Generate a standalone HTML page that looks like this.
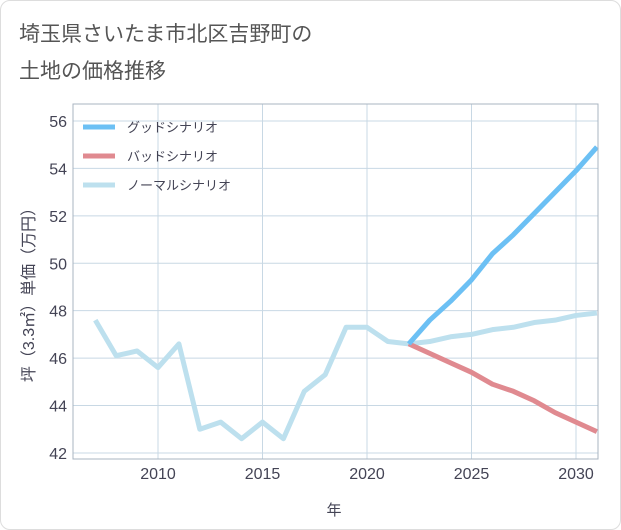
<!DOCTYPE html>
<html><head><meta charset="utf-8"><style>
body{margin:0;background:#fff;font-family:"Liberation Sans","Noto Sans CJK JP",sans-serif}
#c{position:relative;width:621px;height:530px;box-sizing:border-box;border:1px solid #ddd;border-radius:10px;background:#fff;overflow:hidden}
</style></head><body>
<div id="c">
<svg id="s" width="621" height="530" style="position:absolute;left:0;top:0">
<text x="18" y="40" font-size="21" fill="#555">埼玉県さいたま市北区吉野町の</text>
<text x="18" y="77" font-size="21" fill="#555">土地の価格推移</text>
<g id="grid"></g><g id="lines"></g><g id="axes"></g>
<text x="333" y="514" font-size="15" fill="#445" text-anchor="middle">年</text>
<text transform="translate(33,290) rotate(-90)" font-size="16" fill="#445" text-anchor="middle">坪（3.3㎡）単価（万円）</text>
</svg>
</div>
<script>
const normalYears=[2007,2008,2009,2010,2011,2012,2013,2014,2015,2016,2017,2018,2019,2020,2021,2022,2023,2024,2025,2026,2027,2028,2029,2030,2031];
const normalVals=[47.6,46.1,46.3,45.6,46.6,43.0,43.3,42.6,43.3,42.6,44.6,45.3,47.3,47.3,46.7,46.6,46.7,46.9,47.0,47.2,47.3,47.5,47.6,47.8,47.9];
const futureYears=[2022,2023,2024,2025,2026,2027,2028,2029,2030,2031];
const goodVals=[46.6,47.6,48.4,49.3,50.4,51.2,52.1,53.0,53.9,54.9];
const badVals=[46.6,46.2,45.8,45.4,44.9,44.6,44.2,43.7,43.3,42.9];
const xTicks=[2010,2015,2020,2025,2030];
const yTicks=[42,44,46,48,50,52,54,56];
const NS="http://www.w3.org/2000/svg";
const L=72,R=597,T=103,B=458;
const x=y=>157+(y-2010)*20.9;
const yv=v=>120+(56-v)*23.71;
function mk(t,a,p){const e=document.createElementNS(NS,t);for(const k in a)e.setAttribute(k,a[k]);p.appendChild(e);return e;}
const g=document.getElementById('grid'),ln=document.getElementById('lines'),ax=document.getElementById('axes');
yTicks.forEach(v=>{const l=mk('line',{x1:L,x2:R,y1:yv(v),y2:yv(v),stroke:'#c8d8e4','stroke-width':1},g);


const t=mk('text',{x:66,y:yv(v)+6,'font-size':16,fill:'#445','text-anchor':'end'},ax);t.textContent=v;

});
xTicks.forEach(v=>{const l=mk('line',{x1:x(v),x2:x(v),y1:T,y2:B,stroke:'#c8d8e4','stroke-width':1},g);


const t=mk('text',{x:x(v),y:478,'font-size':16,fill:'#445','text-anchor':'middle'},ax);t.textContent=v;

});
const fr=mk('rect',{x:L,y:T,width:R-L,height:B-T,fill:'none',stroke:'#aab4c0'},ax);


function series(xs,vs,col,name){const p=mk('polyline',{points:xs.map((a,i)=>x(a)+','+yv(vs[i])).join(' '),fill:'none',stroke:col,'stroke-width':5,'stroke-linejoin':'round'},ln);

}
series(normalYears,normalVals,'#bde0ee','normal-scenario-line');
series(futureYears,badVals,'#e08a90','bad-scenario-line');
series(futureYears,goodVals,'#6cc0f4','good-scenario-line');
[['グッドシナリオ','#6cc0f4',126],['バッドシナリオ','#e08a90',155],['ノーマルシナリオ','#bde0ee',184]].forEach(([n,c,yy])=>{
const l=mk('line',{x1:82,x2:114,y1:yy,y2:yy,stroke:c,'stroke-width':5},ax);


const t=mk('text',{x:126,y:yy+5,'font-size':13,fill:'#445'},ax);t.textContent=n;

});
</script>
</body></html>
